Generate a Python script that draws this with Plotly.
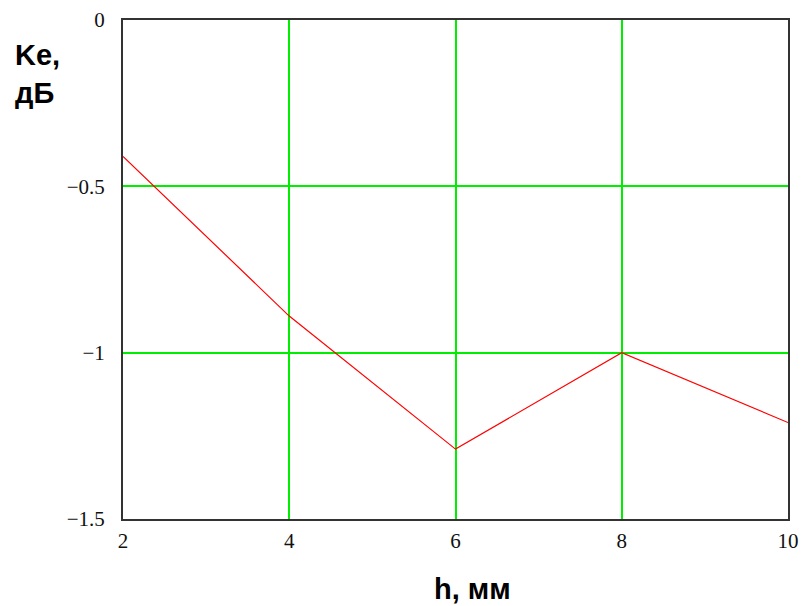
import plotly.graph_objects as go

# Ke (dB) versus h (mm)
h_mm = [2, 4, 6, 8, 10]
ke_db = [-0.41, -0.89, -1.29, -1.0, -1.21]

x_ticks = [2, 4, 6, 8, 10]
y_ticks = [0, -0.5, -1, -1.5]
y_tick_text = ["0", "\u22120.5", "\u22121", "\u22121.5"]

grid_green = "#00ee00"
frame = "#333333"
tick_font = dict(family="Liberation Serif", size=21, color="#111111")
title_font = dict(family="Liberation Sans", size=29, color="#000000")

fig = go.Figure()
fig.add_trace(go.Scatter(
    x=h_mm, y=ke_db, mode="lines",
    line=dict(color="#ff0000", width=1.2),
    hoverinfo="skip", showlegend=False,
))

fig.update_xaxes(
    range=[2, 10], tickvals=x_ticks, ticktext=[str(v) for v in x_ticks],
    showgrid=True, gridcolor=grid_green, gridwidth=2,
    showline=True, linecolor=frame, linewidth=2, mirror=True,
    zeroline=False, ticks="", tickfont=tick_font, ticklabelstandoff=2,
    automargin=False,
)
fig.update_yaxes(
    range=[-1.5, 0], tickvals=y_ticks, ticktext=y_tick_text,
    showgrid=True, gridcolor=grid_green, gridwidth=2,
    showline=True, linecolor=frame, linewidth=2, mirror=True,
    zeroline=False, ticks="", tickfont=tick_font, ticklabelstandoff=12,
    automargin=False,
)

# green zero line sitting on top of the frame edge
fig.add_shape(
    type="line", xref="x", yref="y", x0=2, x1=10,
    ysizemode="pixel", yanchor=0, y0=1, y1=1,
    line=dict(color=grid_green, width=2), layer="above",
)

fig.add_annotation(
    text="<b>Ke,<br>дБ</b>", xref="paper", yref="paper",
    x=-0.165, y=0.965, xanchor="left", yanchor="top", align="left",
    showarrow=False, font=title_font,
)
fig.add_annotation(
    text="<b>h, мм</b>", xref="paper", yref="paper",
    x=0.525, y=-0.14, xanchor="center", yanchor="middle",
    showarrow=False, font=title_font,
)

fig.update_layout(
    width=805, height=606,
    margin=dict(l=123, r=17, t=20, b=87),
    paper_bgcolor="#ffffff", plot_bgcolor="#ffffff",
)

fig.write_html("out.html")
